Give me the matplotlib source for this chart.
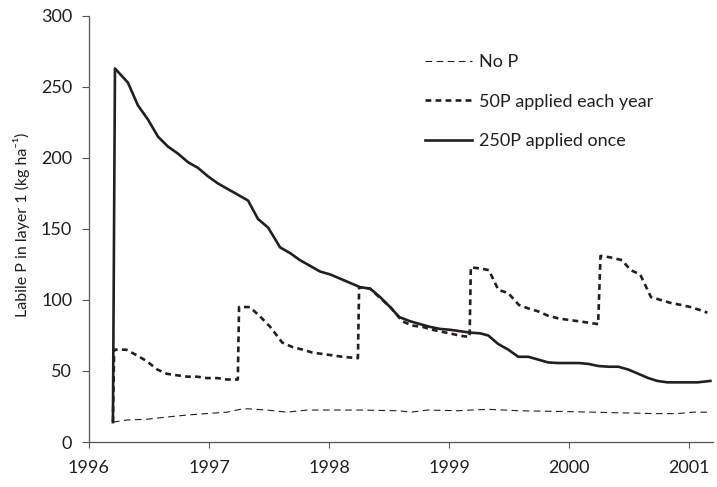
import matplotlib
matplotlib.use('Agg')
import matplotlib.pyplot as plt

plt.rcParams['font.family'] = ['Lato', 'DejaVu Sans']

# 250P applied once
once_x = [1996.20, 1996.217, 1996.325, 1996.408, 1996.492, 1996.575, 1996.658, 1996.742,
          1996.825, 1996.908, 1996.992, 1997.075, 1997.158, 1997.242, 1997.325, 1997.408,
          1997.492, 1997.592, 1997.675, 1997.758, 1997.842, 1997.925, 1998.008, 1998.092,
          1998.175, 1998.258, 1998.342, 1998.425, 1998.508, 1998.583, 1998.675, 1998.758,
          1998.842, 1998.925, 1999.008, 1999.092, 1999.175, 1999.258, 1999.325, 1999.408,
          1999.492, 1999.575, 1999.658, 1999.742, 1999.825, 1999.908, 1999.992, 2000.075,
          2000.158, 2000.242, 2000.325, 2000.408, 2000.492, 2000.575, 2000.658, 2000.733,
          2000.817, 2000.900, 2000.983, 2001.067, 2001.175]
once_y = [14, 263, 253, 237, 227, 215, 208, 203,
          197, 193, 187, 182, 178, 174, 170, 157,
          151, 137, 133, 128, 124, 120, 118, 115,
          112, 109, 108, 102, 95, 88, 85, 83,
          81, 79.6, 79, 78, 77, 76.5, 75, 69,
          65, 60, 60, 58, 56, 55.6, 55.6, 55.6,
          55, 53.5, 53, 53, 51, 48, 45, 43,
          42, 42, 42, 42, 43]

# 50P applied each year
yearly_x = [1996.20, 1996.21, 1996.31, 1996.40, 1996.48, 1996.57, 1996.65, 1996.73, 1996.82,
            1996.90, 1996.98, 1997.07, 1997.15, 1997.24, 1997.25, 1997.34, 1997.43, 1997.51,
            1997.61, 1997.69, 1997.78, 1997.86, 1997.94, 1998.03, 1998.11, 1998.24, 1998.25,
            1998.34, 1998.43, 1998.51, 1998.61, 1998.69, 1998.78, 1998.86, 1998.94, 1999.03,
            1999.11, 1999.17, 1999.18, 1999.27, 1999.33, 1999.41, 1999.49, 1999.58, 1999.66,
            1999.74, 1999.82, 1999.91, 1999.99, 2000.08, 2000.16, 2000.24, 2000.26, 2000.34,
            2000.44, 2000.51, 2000.59, 2000.68, 2000.76, 2000.84, 2000.93, 2001.01, 2001.12,
            2001.15]
yearly_y = [14, 65, 65, 61, 57, 51, 48, 47, 46,
            46, 45, 45, 44, 44, 95, 95, 88, 81,
            70, 67, 65, 63, 62, 61, 60, 59, 109,
            108, 101, 95, 85, 82, 81, 79, 77.6, 76,
            74.6, 74, 123, 122, 121, 107, 105, 96.5, 94,
            92, 89, 87, 86, 85, 84, 83, 131, 130,
            128, 121, 118, 102, 100, 98, 96.5, 95, 92,
            91]

# No P
nop_x = [1996.20, 1996.32, 1996.48, 1996.65, 1996.82, 1996.98, 1997.15, 1997.26, 1997.32,
         1997.48, 1997.65, 1997.82, 1998.00, 1998.25, 1998.58, 1998.68, 1998.82, 1999.07,
         1999.18, 1999.33, 1999.58, 1999.93, 2000.20, 2000.70, 2000.90, 2001.03, 2001.16]
nop_y = [14, 15.5, 16, 17.6, 19, 20, 21, 23, 23.4,
         22.5, 21, 22.5, 22.5, 22.5, 22, 21, 22.5, 22,
         22.5, 23, 22, 21.5, 21, 20, 20, 21, 21]

ink = '#231f20'
fig = plt.figure(figsize=(7.17, 4.87), dpi=100)
ax = fig.add_axes([0.124, 0.0924, 0.871, 0.875])

ax.plot(nop_x, nop_y, color=ink, lw=0.8, dashes=(6, 4), label='No P')
ax.plot(yearly_x, yearly_y, color=ink, lw=1.9, dashes=(2.2, 1.6), label='50P applied each year')
ax.plot(once_x, once_y, color=ink, lw=1.9, label='250P applied once')

ax.set_xlim(1996, 2001.2)
ax.set_ylim(0, 300)
ax.set_xticks([1996, 1997, 1998, 1999, 2000, 2001])
ax.set_yticks([0, 50, 100, 150, 200, 250, 300])
for s in ['top', 'right']:
    ax.spines[s].set_visible(False)
for s in ['left', 'bottom']:
    ax.spines[s].set_color('#555555')
    ax.spines[s].set_linewidth(0.9)
ax.tick_params(axis='both', direction='out', colors='#555555', labelcolor=ink, labelsize=13)
ax.tick_params(axis='x', length=4, pad=9)
ax.tick_params(axis='y', length=5, pad=7)
ax.set_ylabel('Labile P in layer 1 (kg ha\u207b\u00b9)', fontsize=11.5, color=ink)
ax.yaxis.set_label_coords(-0.095, 0.509)

leg = ax.legend(loc='upper left', bbox_to_anchor=(0.538, 0.91), frameon=False, fontsize=13,
                handlelength=2.6, handletextpad=0.4, labelspacing=1.3,
                borderpad=0, borderaxespad=0)
for t in leg.get_texts():
    t.set_color(ink)

fig.savefig('out.png', dpi=100)
